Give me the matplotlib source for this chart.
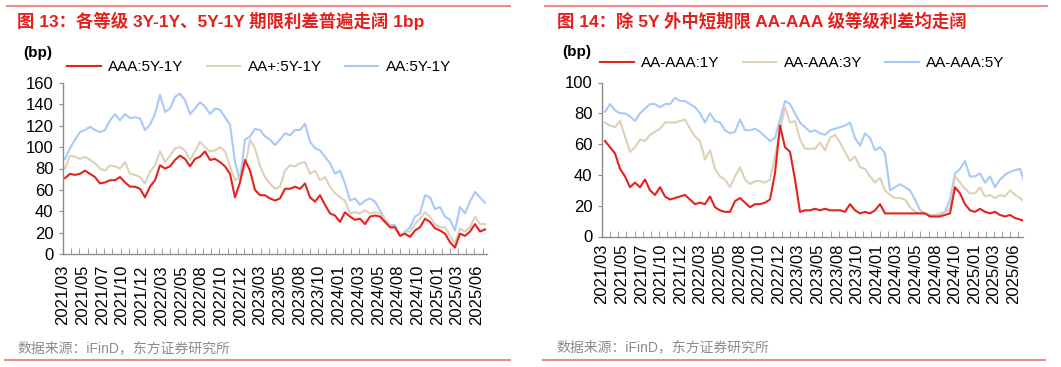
import numpy as np
import matplotlib
matplotlib.use('Agg')
import matplotlib.pyplot as plt
from matplotlib.lines import Line2D

plt.rcParams['font.family'] = ['Liberation Sans', 'Noto Sans CJK SC', 'DejaVu Sans']

# x 轴标签
labels = ['2021/03', '2021/05', '2021/07', '2021/10', '2021/12', '2022/03', '2022/05',
          '2022/08', '2022/10', '2022/12', '2023/03', '2023/05', '2023/08', '2023/10',
          '2024/01', '2024/03', '2024/05', '2024/08', '2024/10', '2025/01', '2025/03',
          '2025/06']

# 图 13：期限利差 (bp)
aaa_5y1y = [71, 75, 74, 75, 78, 75, 72, 66, 67, 69, 69, 72, 67, 63, 63, 61, 53, 63, 69, 83,
            80, 82, 88, 92, 89,
            82, 89, 91, 96, 88, 89, 86, 82, 75, 53, 67, 88, 78, 60, 55, 55, 52, 50, 52, 61,
            61, 63, 61, 66,
            53, 49, 55, 46, 38, 36, 30, 39, 35, 32, 33, 28, 35, 36, 35, 30, 25, 25,
            17, 19, 16, 22, 25, 33, 30, 24, 22, 19, 11, 6, 19, 17, 21, 28, 21, 23]
aap_5y1y = [80, 92, 91, 89, 91, 88, 85, 80, 78, 83, 82, 80, 86, 75, 74, 72, 66, 77, 83, 96,
            86, 92, 99, 100, 97,
            88, 96, 105, 100, 96, 97, 100, 96, 82, 69, 72, 82, 107, 99, 82, 72, 66, 61, 63,
            78, 83, 82, 85, 86,
            75, 78, 69, 72, 63, 57, 53, 50, 38, 39, 38, 41, 38, 39, 38, 32, 25, 25,
            17, 21, 21, 28, 33, 39, 35, 28, 25, 25, 17, 10, 24, 21, 25, 35, 28, 28]
aa_5y1y = [89, 99, 107, 114, 116, 119, 116, 114, 116, 125, 131, 125, 131, 127, 128, 127, 116,
           121, 131, 149, 133, 136, 147, 150, 144,
           131, 136, 142, 138, 131, 136, 135, 128, 121, 86, 69, 107, 110, 117, 116, 110, 107,
           102, 107, 113, 111, 116, 116, 122,
           105, 99, 97, 91, 85, 75, 78, 66, 50, 52, 46, 50, 52, 49, 41, 32, 27, 27,
           17, 21, 25, 35, 38, 55, 53, 42, 44, 35, 32, 22, 44, 38, 49, 58, 53, 48]

# 图 14：AA-AAA 等级利差 (bp)
spread_1y = [62, 58, 54, 44, 39, 32, 35, 32, 37, 30, 27, 32, 26, 24, 25, 26, 27, 24, 21, 22,
             21, 26, 19, 17, 16, 16, 23, 25, 22, 19, 21, 21, 22, 24, 41, 72, 58, 55, 37, 16,
             17, 17,
             18, 17, 18, 17, 17, 17, 16, 21, 17, 15, 16, 15, 17, 21, 15, 15, 15, 15, 15, 15,
             15, 15, 15, 13, 13, 13, 14, 15, 32, 28, 21, 17, 16, 18, 16, 15, 16, 14, 13, 14,
             12, 11, 10]
spread_3y = [74, 72, 71, 75, 65, 55, 58, 63, 62, 66, 68, 70, 74, 74, 74, 75, 76, 70, 65, 62,
             50, 56, 44, 39, 37, 32, 39, 45, 37, 34, 36, 36, 35, 37, 52, 69, 84, 74, 75, 63,
             57, 57,
             57, 61, 56, 64, 66, 61, 55, 49, 52, 45, 44, 39, 35, 38, 30, 27, 25, 25, 24, 19,
             16, 15, 15, 14, 14, 15, 16, 18, 39, 35, 31, 28, 28, 32, 26, 27, 25, 27, 26, 30,
             27, 25, 22]
spread_5y = [81, 86, 82, 80, 80, 78, 75, 80, 83, 86, 86, 84, 86, 86, 90, 88, 88, 86, 84, 80,
             74, 80, 75, 74, 69, 67, 68, 76, 69, 69, 70, 68, 65, 62, 64, 76, 88, 86, 80, 74,
             71, 68,
             69, 67, 66, 69, 70, 71, 72, 74, 64, 59, 67, 64, 56, 58, 54, 30, 32, 34, 32, 30,
             24, 17, 15, 14, 13, 14, 16, 24, 41, 44, 49, 39, 39, 41, 35, 39, 32, 37, 40, 42,
             43, 44, 34]

RED = '#E5231E'
BEIGE = '#DDD1B9'
BLUE = '#A9C9FA'
GRID = '#8C8C8C'
TITLE_RED = '#E3201C'
LINE_RED = '#EE8A8A'

fig = plt.figure(figsize=(10.61, 3.67), dpi=100)
W, H = 1061, 367


def fx(px):
    return px / W


def fy(py):
    return 1 - py / H


def style_axes(ax, ymax, lab0, lab_step, tick_step, xmin, xmax):
    for s in ['top', 'right']:
        ax.spines[s].set_visible(False)
    for s in ['left', 'bottom']:
        ax.spines[s].set_color(GRID)
        ax.spines[s].set_linewidth(1)
    ax.set_ylim(0, ymax)
    ax.set_yticks(np.arange(0, ymax + 1, 20))
    ax.tick_params(axis='y', direction='out', length=3, color=GRID, labelsize=12, pad=4)
    ax.set_xlim(xmin, xmax)
    ax.set_xticks(lab0 + lab_step * np.arange(len(labels)))
    ax.set_xticklabels(labels, rotation=90)
    ax.tick_params(axis='x', which='major', length=0, labelsize=12, pad=8)
    ax.set_xticks(np.arange(xmin, xmax, tick_step), minor=True)
    ax.tick_params(axis='x', which='minor', direction='in', length=4, color=GRID)


# 左图
ax1 = fig.add_axes([fx(63), fy(254), fx(424), 171 / H])
x1 = np.arange(len(aaa_5y1y))
ax1.plot(x1, aa_5y1y, color=BLUE, lw=1.5)
ax1.plot(x1, aap_5y1y, color=BEIGE, lw=1.5)
ax1.plot(x1, aaa_5y1y, color=RED, lw=1.5)
style_axes(ax1, 160, -0.4, 3.94, 1.646, -0.4, 84.4)

# 右图
ax2 = fig.add_axes([fx(602), fy(236.5), fx(421), 154 / H])
x2 = np.arange(len(spread_1y))
ax2.plot(x2, spread_5y, color=BLUE, lw=1.5)
ax2.plot(x2, spread_3y, color=BEIGE, lw=1.5)
ax2.plot(x2, spread_1y, color=RED, lw=1.5)
style_axes(ax2, 100, -0.6, 3.92, 1.633, -0.6, 83.6)
ax2.tick_params(axis='x', which='major', pad=5)


def legend(ax, names, x, y):
    handles = [Line2D([], [], color=c, lw=1.5) for c in (RED, BEIGE, BLUE)]
    ax.legend(handles, names, ncol=3, frameon=False, loc='center left',
              bbox_to_anchor=(fx(x), fy(y)), bbox_transform=fig.transFigure,
              borderaxespad=0, borderpad=0, fontsize=11, handlelength=2.2,
              handletextpad=0.5, columnspacing=1.5)


legend(ax1, ['AAA:5Y-1Y', 'AA+:5Y-1Y', 'AA:5Y-1Y'], 67, 67)
legend(ax2, ['AA-AAA:1Y', 'AA-AAA:3Y', 'AA-AAA:5Y'], 600, 63)

# 标题、单位、来源
fig.text(fx(17), fy(21), '图 13：各等级 3Y-1Y、5Y-1Y 期限利差普遍走阔 1bp', color=TITLE_RED,
         fontsize=12.5, fontweight='bold', va='center', ha='left')
fig.text(fx(557), fy(21), '图 14：除 5Y 外中短期限 AA-AAA 级等级利差均走阔', color=TITLE_RED,
         fontsize=12.5, fontweight='bold', va='center', ha='left')
fig.text(fx(23), fy(53), '(bp)', fontsize=11, fontweight='bold', va='center', ha='left')
fig.text(fx(562), fy(52), '(bp)', fontsize=11, fontweight='bold', va='center', ha='left')
fig.text(fx(17), fy(348), '数据来源：iFinD，东方证券研究所', color='#8C8C8C', fontsize=10,
         va='center', ha='left')
fig.text(fx(556), fy(347), '数据来源：iFinD，东方证券研究所', color='#8C8C8C', fontsize=10,
         va='center', ha='left')

# 分隔线
for x0, x1_ in [(7, 510), (545, 1047)]:
    fig.add_artist(Line2D([fx(x0), fx(x1_)], [fy(6), fy(6)], color=LINE_RED, lw=1.5))
for x0, x1_ in [(5, 510), (543, 1045)]:
    fig.add_artist(Line2D([fx(x0), fx(x1_)], [fy(360), fy(360)], color=LINE_RED, lw=1.5))

fig.savefig('out.png', dpi=100)
